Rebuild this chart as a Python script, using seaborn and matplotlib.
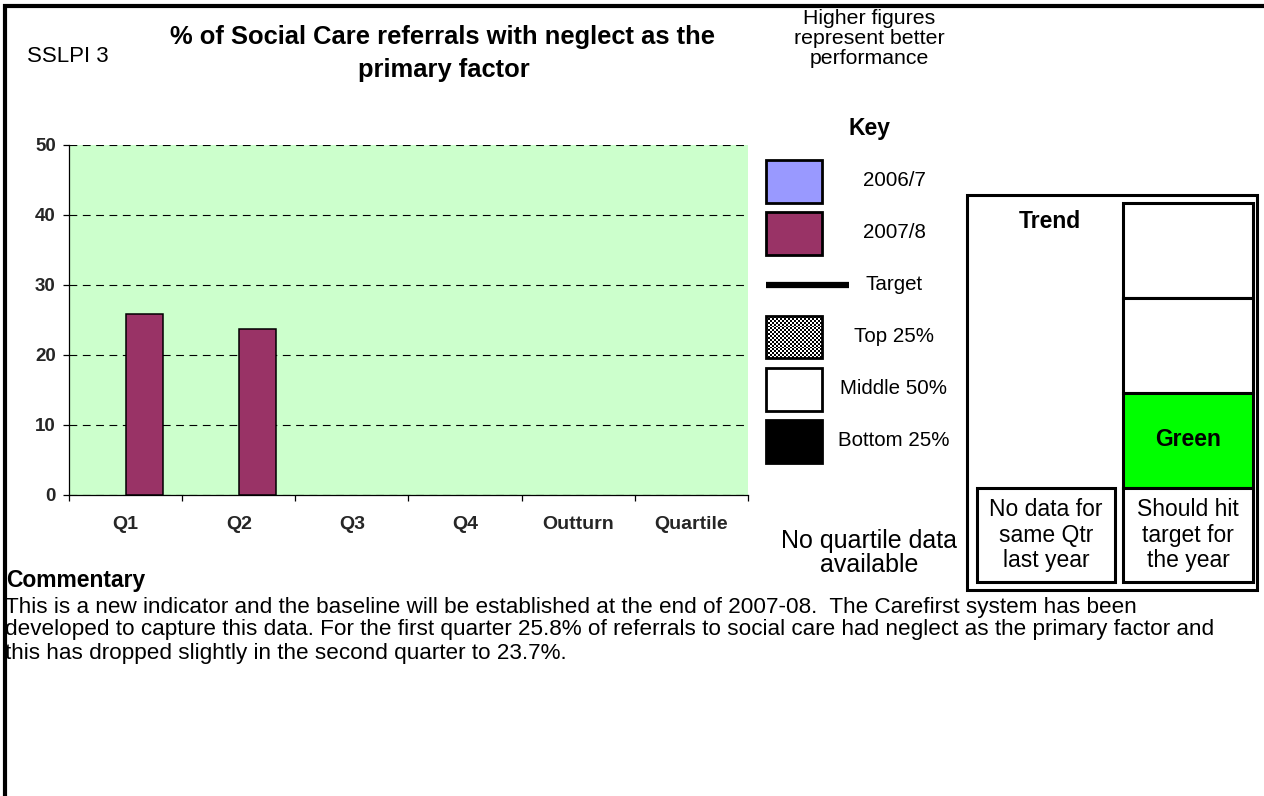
import numpy as np
import pandas as pd
import matplotlib
matplotlib.use("Agg")
import matplotlib.pyplot as plt
import seaborn as sns
from matplotlib.patches import Rectangle

# ---------------- data ----------------
categories = ["Q1", "Q2", "Q3", "Q4", "Outturn", "Quartile"]
series = ["2006/7", "2007/8"]
values_2006_7 = [np.nan, np.nan, np.nan, np.nan, np.nan, np.nan]
values_2007_8 = [25.8, 23.7, np.nan, np.nan, np.nan, np.nan]
y_ticks = [0, 10, 20, 30, 40, 50]
series_colors = {"2006/7": "#9999FF", "2007/8": "#993366"}

title_lines = ["% of Social Care referrals with neglect as the", "primary factor"]
note_lines = ["Higher figures", "represent better", "performance"]
key_labels = ["2006/7", "2007/8", "Target", "Top 25%", "Middle 50%", "Bottom 25%"]
commentary_lines = [
    "This is a new indicator and the baseline will be established at the end of 2007-08.  The Carefirst system has been",
    "developed to capture this data. For the first quarter 25.8% of referrals to social care had neglect as the primary factor and",
    "this has dropped slightly in the second quarter to 23.7%.",
]

df = pd.DataFrame({
    "quarter": categories * 2,
    "series": [series[0]] * len(categories) + [series[1]] * len(categories),
    "value": values_2006_7 + values_2007_8,
})

# ---------------- style ----------------
sns.set_style("ticks")
plt.rcParams["font.family"] = ["Liberation Sans", "DejaVu Sans"]

W, H = 1264, 796
fig = plt.figure(figsize=(W / 100, H / 100), dpi=100)
fig.patch.set_facecolor("white")

# main chart axes (pixel box: x 69..748, y 145..495)
ax = fig.add_axes([69 / W, 1 - 495 / H, (748 - 69) / W, 350 / H])
ax.set_facecolor("#CCFFCC")
sns.barplot(data=df, x="quarter", y="value", hue="series",
            order=categories, hue_order=series, palette=series_colors,
            saturation=1, width=0.667, edgecolor="black", linewidth=1.1,
            errorbar=None, legend=False, ax=ax, zorder=3)
ax.set_xlim(-0.5, len(categories) - 0.5)
ax.set_ylim(0, 50)
ax.set_yticks(y_ticks)
ax.set_yticklabels([str(t) for t in y_ticks], fontsize=13.5, fontweight="bold")
ax.set_axisbelow(True)
ax.yaxis.grid(True, linestyle=(0, (7, 5)), color="black", linewidth=0.8)
ax.xaxis.grid(False)
for s in ["top", "right"]:
    ax.spines[s].set_visible(False)
for s in ["left", "bottom"]:
    ax.spines[s].set_color("black")
    ax.spines[s].set_linewidth(0.9)
ax.set_xticks([i - 0.5 for i in range(len(categories) + 1)])
ax.set_xticklabels([])
ax.set_xticks(range(len(categories)), minor=True)
ax.set_xticklabels(categories, minor=True, fontsize=14, fontweight="bold")
ax.tick_params(axis="x", which="major", length=4.5, width=0.9, direction="out", color="black")
ax.tick_params(axis="x", which="minor", length=0, pad=15)
ax.tick_params(axis="y", which="major", length=4.5, width=0.9, direction="out", color="black", pad=5)
ax.set_xlabel("")
ax.set_ylabel("")

# overlay axes in pixel coordinates
ov = fig.add_axes([0, 0, 1, 1], zorder=5)
ov.patch.set_alpha(0)
ov.axis("off")

def txt(x, y, s, size=15, weight="normal", ha="center"):
    ov.text(x, y, s, fontsize=size, fontweight=weight, ha=ha, va="center", color="black")

# frame lines
ov.plot([3, W], [5.5, 5.5], color="black", lw=3, solid_capstyle="butt", clip_on=False)
ov.plot([5, 5], [4, H], color="black", lw=3, solid_capstyle="butt", clip_on=False)

# header texts
txt(27, 56, "SSLPI 3", size=16, ha="left")
txt(442, 37, title_lines[0], size=18.4, weight="bold")
txt(444, 70, title_lines[1], size=18.4, weight="bold")
for i, line in enumerate(note_lines):
    txt(869, 19 + 19.5 * i, line, size=15.3)

# key
txt(869, 129, "Key", size=16.5, weight="bold")
key_y = [181, 233, 285, 337, 389, 441]
ov.add_patch(Rectangle((766, 160), 56, 43, fc=series_colors["2006/7"], ec="black", lw=2, zorder=3))
ov.add_patch(Rectangle((766, 212), 56, 43, fc=series_colors["2007/8"], ec="black", lw=2, zorder=3))
ov.plot([766, 849], [285, 285], color="black", lw=4.5, solid_capstyle="butt")
checker = np.indices((22, 28)).sum(axis=0) % 2
ov.imshow(checker, cmap="gray", extent=(766, 822, 358, 316), interpolation="nearest",
          aspect="auto", zorder=2)
ov.add_patch(Rectangle((766, 316), 56, 42, fc="none", ec="black", lw=2, zorder=3))
ov.add_patch(Rectangle((766, 368), 56, 43, fc="white", ec="black", lw=2, zorder=3))
ov.add_patch(Rectangle((766, 420), 56, 43, fc="black", ec="black", lw=2, zorder=3))
for lab, y in zip(key_labels, key_y):
    txt(894, y, lab, size=14.8)
txt(869, 541, "No quartile data", size=18)
txt(869, 565, "available", size=18)

# trend box
ov.add_patch(Rectangle((967, 195), 290, 395, fc="white", ec="black", lw=2.2, zorder=2))
ov.add_patch(Rectangle((1123, 203), 130, 95, fc="white", ec="black", lw=2.2, zorder=3))
ov.add_patch(Rectangle((1123, 298), 130, 95, fc="white", ec="black", lw=2.2, zorder=3))
ov.add_patch(Rectangle((1123, 393), 130, 95, fc="#00FF00", ec="black", lw=2.2, zorder=3))
ov.add_patch(Rectangle((1123, 488), 130, 94, fc="white", ec="black", lw=2.2, zorder=3))
ov.add_patch(Rectangle((977, 488), 138, 94, fc="white", ec="black", lw=2.2, zorder=3))
txt(1050, 221, "Trend", size=16.5, weight="bold")
txt(1188, 440, "Green", size=16.5, weight="bold")
for i, line in enumerate(["No data for", "same Qtr", "last year"]):
    txt(1046, 510 + 25.5 * i, line, size=16.5)
for i, line in enumerate(["Should hit", "target for", "the year"]):
    txt(1188, 510 + 25.5 * i, line, size=16.5)

# commentary
txt(6, 581, "Commentary", size=16.5, weight="bold", ha="left")
for i, line in enumerate(commentary_lines):
    txt(5, 607 + 23 * i, line, size=16.2, ha="left")

ov.set_xlim(0, W)
ov.set_ylim(H, 0)

fig.savefig("out.png", dpi=100)
